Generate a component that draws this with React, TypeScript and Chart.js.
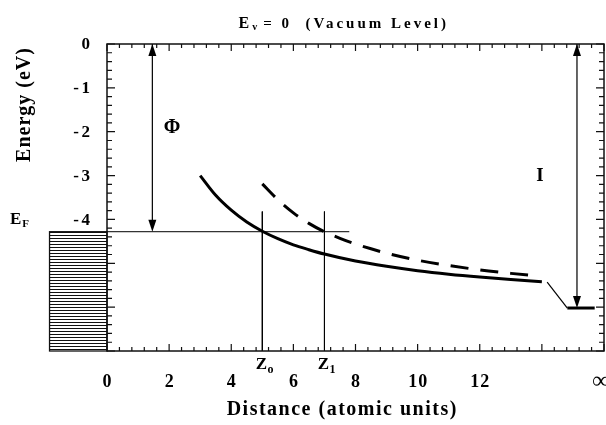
import React, { useEffect, useRef } from "react";
import { Chart, registerables } from "chart.js";

Chart.register(...registerables);

// ---- data ----
const SOLID_X = [3.0, 3.5, 4.0, 4.5, 5.0, 5.5, 6.0, 6.5, 7.0, 8.0, 9.0, 10.0, 11.0, 12.0, 13.0, 14.0];
const SOLID_Y = [-3.0, -3.45, -3.79, -4.06, -4.27, -4.44, -4.58, -4.69, -4.79, -4.95, -5.07, -5.17, -5.25, -5.315, -5.37, -5.42];
const DASH_X = [5.0, 5.5, 6.0, 6.5, 7.0, 7.5, 8.0, 8.5, 9.0, 10.0, 11.0, 12.0, 13.0, 13.85];
const DASH_Y = [-3.19, -3.55, -3.85, -4.09, -4.28, -4.43, -4.56, -4.67, -4.77, -4.93, -5.05, -5.15, -5.23, -5.29];

const FERMI = -4.28;
const EF_LINE_END = 7.8;
const Z_POS = [5.0, 7.0];
const Z_SUBS = ["o", "1"];
const Z_TOP = -3.82;
const PHI_X = 1.46;
const ION_X = 15.13;
const ION_LEVEL = -6.02;
const ION_SEG_X = [14.82, 15.7];
const TAIL_X = [14.17, 14.82];
const TAIL_Y = [-5.43, -6.02];
const BULK_LEFT = -1.85;

const X_MIN = 0;
const X_MAX = 16;
const Y_MIN = -7;
const Y_MAX = 0;
const X_TICK_VALUES = [0, 2, 4, 6, 8, 10, 12];
const X_TICK_LABELS = ["0", "2", "4", "6", "8", "10", "12"];
const INF_POS = 15.9;
const Y_TICK_VALUES = [0, -1, -2, -3, -4];
const Y_TICK_LABELS = ["0", "-1", "-2", "-3", "-4"];
const PHI_LABEL = { x: 2.09, y: -1.92 };
const I_LABEL = { x: 13.94, y: -3.01 };

const SERIF = '"Liberation Serif", "Times New Roman", serif';

function txt(
  ctx: CanvasRenderingContext2D,
  s: string,
  px: number,
  py: number,
  font: string,
  align: CanvasTextAlign = "center",
  baseline: CanvasTextBaseline = "alphabetic",
  spacing = 0
) {
  ctx.save();
  ctx.font = font;
  (ctx as any).letterSpacing = spacing + "px";
  ctx.textAlign = align;
  ctx.textBaseline = baseline;
  ctx.fillStyle = "#000";
  const shift = align === "center" ? spacing / 2 : align === "right" ? spacing : 0;
  ctx.fillText(s, px + shift, py);
  const w = ctx.measureText(s).width;
  ctx.restore();
  return w;
}

function arrowHead(ctx: CanvasRenderingContext2D, x: number, y: number, dir: number) {
  // dir = -1 pointing up, +1 pointing down; tip at (x,y)
  ctx.save();
  ctx.fillStyle = "#000";
  ctx.beginPath();
  ctx.moveTo(x, y);
  ctx.lineTo(x - 4, y - dir * 12);
  ctx.lineTo(x + 4, y - dir * 12);
  ctx.closePath();
  ctx.fill();
  ctx.restore();
}

const decorPlugin = {
  id: "decor",
  afterDraw(chart: any) {
    const { ctx, chartArea } = chart;
    const { left, top, right, bottom } = chartArea;
    const xs = chart.scales.x;
    const ys = chart.scales.y;

    // bulk (hatched) region
    const bx0 = xs.getPixelForValue(BULK_LEFT);
    const by0 = ys.getPixelForValue(FERMI);
    ctx.save();
    ctx.strokeStyle = "#111";
    ctx.lineWidth = 1;
    for (let yy = by0; yy <= bottom; yy += 3) {
      ctx.beginPath();
      ctx.moveTo(bx0, Math.round(yy) + 0.5);
      ctx.lineTo(left, Math.round(yy) + 0.5);
      ctx.stroke();
    }
    ctx.lineWidth = 1.3;
    ctx.strokeRect(bx0, by0, left - bx0, bottom - by0);
    ctx.restore();

    // frame
    ctx.save();
    ctx.strokeStyle = "#111";
    ctx.lineWidth = 1.5;
    ctx.strokeRect(left, top, right - left, bottom - top);

    // ticks x (every 0.4, major every 2)
    ctx.lineWidth = 1.2;
    for (let i = 0; i <= 40; i++) {
      const v = i * 0.4;
      if (v > X_MAX + 1e-9) break;
      const px = xs.getPixelForValue(v);
      const len = i % 5 === 0 ? 7 : 4;
      ctx.beginPath();
      ctx.moveTo(px, bottom);
      ctx.lineTo(px, bottom - len);
      ctx.moveTo(px, top);
      ctx.lineTo(px, top + len);
      ctx.stroke();
    }
    // ticks y (every 0.2, major every 1)
    for (let i = 0; i <= 35; i++) {
      const v = -i * 0.2;
      const py = ys.getPixelForValue(v);
      const len = i % 5 === 0 ? 8 : 5;
      ctx.beginPath();
      ctx.moveTo(left, py);
      ctx.lineTo(left + len, py);
      ctx.moveTo(right, py);
      ctx.lineTo(right - len, py);
      ctx.stroke();
    }
    ctx.restore();

    // arrowheads
    arrowHead(ctx, xs.getPixelForValue(PHI_X), ys.getPixelForValue(0), -1);
    arrowHead(ctx, xs.getPixelForValue(PHI_X), ys.getPixelForValue(FERMI), 1);
    arrowHead(ctx, xs.getPixelForValue(ION_X), ys.getPixelForValue(0), -1);
    arrowHead(ctx, xs.getPixelForValue(ION_X), ys.getPixelForValue(ION_LEVEL), 1);

    // tick labels
    const tickFont = `bold 18px ${SERIF}`;
    X_TICK_VALUES.forEach((v, i) => {
      txt(ctx, X_TICK_LABELS[i], xs.getPixelForValue(v), bottom + 31, tickFont, "center", "middle", 1);
    });
    txt(ctx, "\u221E", xs.getPixelForValue(INF_POS), bottom + 31, `bold 24px ${SERIF}`, "center", "middle");
    Y_TICK_VALUES.forEach((v, i) => {
      txt(ctx, Y_TICK_LABELS[i], left - 17, ys.getPixelForValue(v) + 1, `bold 17px ${SERIF}`, "right", "middle", 2.5);
    });

    // axis titles
    txt(ctx, "Distance (atomic units)", (left + right) / 2 - 14, bottom + 59, `bold 20px ${SERIF}`, "center", "middle", 1.5);
    ctx.save();
    ctx.translate(left - 82, top + 61);
    ctx.rotate(-Math.PI / 2);
    txt(ctx, "Energy (eV)", 0, 0, `bold 20px ${SERIF}`, "center", "middle", 1);
    ctx.restore();

    // chart title: E_v = 0 (Vacuum Level)
    let cx = (left + right) / 2 - 117;
    const ty = top - 16;
    cx += txt(ctx, "E", cx, ty, `bold 16px ${SERIF}`, "left") + 3;
    cx += txt(ctx, "v", cx, ty + 2, `bold 10px ${SERIF}`, "left") + 6;
    txt(ctx, "= 0  (Vacuum Level)", cx, ty, `bold 15px ${SERIF}`, "left", "alphabetic", 3);

    // E_F label
    const efy = ys.getPixelForValue(FERMI);
    let ex = 10;
    ex += txt(ctx, "E", ex, efy - 8, `bold 17px ${SERIF}`, "left") + 1;
    txt(ctx, "F", ex, efy - 5, `bold 11px ${SERIF}`, "left");

    // Z labels
    Z_POS.forEach((z, i) => {
      const zx = xs.getPixelForValue(z);
      const w = txt(ctx, "Z", zx - 1, bottom + 17.5, `bold 17px ${SERIF}`, "center");
      txt(ctx, Z_SUBS[i], zx - 1 + w / 2 + 0.5, bottom + 22, `bold 12px ${SERIF}`, "left");
    });

    // Phi and I labels
    txt(ctx, "\u03A6", xs.getPixelForValue(PHI_LABEL.x), ys.getPixelForValue(PHI_LABEL.y), `bold 20px ${SERIF}`, "center", "middle");
    txt(ctx, "I", xs.getPixelForValue(I_LABEL.x), ys.getPixelForValue(I_LABEL.y), `bold 19px ${SERIF}`, "center", "middle");
  },
};

const thin = { borderColor: "#000", borderWidth: 1, pointRadius: 0, fill: false };

export default function App() {
  const ref = useRef<HTMLCanvasElement | null>(null);
  useEffect(() => {
    if (!ref.current) return;
    const chart = new Chart(ref.current, {
      type: "line",
      data: {
        datasets: [
          {
            data: SOLID_X.map((x, i) => ({ x, y: SOLID_Y[i] })),
            borderColor: "#000",
            borderWidth: 3,
            pointRadius: 0,
            cubicInterpolationMode: "monotone",
            fill: false,
          },
          {
            data: DASH_X.map((x, i) => ({ x, y: DASH_Y[i] })),
            borderColor: "#000",
            borderWidth: 3,
            borderDash: [18, 12],
            pointRadius: 0,
            cubicInterpolationMode: "monotone",
            fill: false,
          },
          { ...thin, data: [{ x: X_MIN, y: FERMI }, { x: EF_LINE_END, y: FERMI }] },
          ...Z_POS.map((z) => ({ ...thin, data: [{ x: z, y: Z_TOP }, { x: z, y: Y_MIN }] })),
          { ...thin, borderWidth: 1.2, data: TAIL_X.map((x, i) => ({ x, y: TAIL_Y[i] })) },
          { ...thin, borderWidth: 3, data: ION_SEG_X.map((x) => ({ x, y: ION_LEVEL })) },
          { ...thin, borderWidth: 1.2, data: [{ x: PHI_X, y: Y_MAX }, { x: PHI_X, y: FERMI + 0.2 }] },
          { ...thin, borderWidth: 1.2, data: [{ x: ION_X, y: Y_MAX }, { x: ION_X, y: ION_LEVEL + 0.2 }] },
        ] as any,
      },
      options: {
        responsive: false,
        animation: false,
        layout: { padding: { left: 107, top: 44, right: 2, bottom: 74 } },
        plugins: { legend: { display: false }, tooltip: { enabled: false } },
        scales: {
          x: { type: "linear", min: X_MIN, max: X_MAX, display: false },
          y: { type: "linear", min: Y_MIN, max: Y_MAX, display: false },
        },
      } as any,
      plugins: [decorPlugin],
    });
    return () => chart.destroy();
  }, []);
  return (
    <div style={{ position: "absolute", left: 0, top: 0, width: 606, height: 425, background: "#fff" }}>
      <canvas ref={ref} width={606} height={425} style={{ display: "block" }} />
    </div>
  );
}
